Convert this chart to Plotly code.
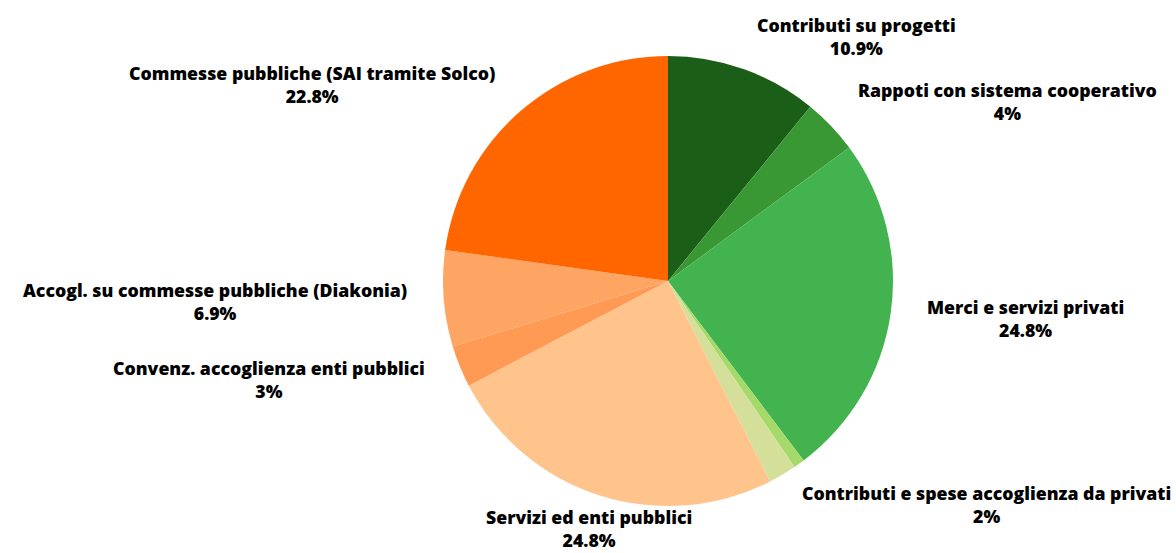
import math
import plotly.graph_objects as go

labels = [
    "Contributi su progetti",
    "Rappoti con sistema cooperativo",
    "Merci e servizi privati",
    "Altro",
    "Contributi e spese accoglienza da privati",
    "Servizi ed enti pubblici",
    "Convenz. accoglienza enti pubblici",
    "Accogl. su commesse pubbliche (Diakonia)",
    "Commesse pubbliche (SAI tramite Solco)",
]
values = [10.9, 4, 24.8, 0.8, 2, 24.8, 3, 6.9, 22.8]
pct_text = ["10.9%", "4%", "24.8%", "", "2%", "24.8%", "3%", "6.9%", "22.8%"]
colors = ["#1b5e17", "#3a9834", "#42b34f", "#a5d96a", "#d4df9a",
          "#ffc38c", "#ff9a55", "#ffa563", "#ff6600"]

W, H = 1176, 553
cx, cy, R = 668, 281, 225
label_r = 260

fig = go.Figure(go.Pie(
    labels=labels, values=values, sort=False, direction="clockwise", rotation=0,
    marker=dict(colors=colors, line=dict(width=0)),
    textinfo="none", hoverinfo="label+percent", showlegend=False,
    domain=dict(x=[(cx - R) / W, (cx + R) / W], y=[1 - (cy + R) / H, 1 - (cy - R) / H]),
))

total = sum(values)
cum = 0.0
annotations = []
for name, v, pt in zip(labels, values, pct_text):
    a = 360.0 * (cum + v / 2) / total
    cum += v
    if not pt:
        continue
    dx = math.sin(math.radians(a))
    dy = -math.cos(math.radians(a))
    px = cx + label_r * dx
    py = cy + label_r * dy
    if abs(a - 180) < 25:
        xa = "center"
    elif dx > 0:
        xa = "left"
    else:
        xa = "right"
    annotations.append(dict(
        x=px / W, y=1 - py / H, xref="paper", yref="paper",
        text=f"{name}<br>{pt}", showarrow=False, xanchor=xa, yanchor="middle",
        align="center",
        font=dict(family="Open Sans", size=17.7, color="#000000", weight=800),
    ))

fig.update_layout(
    width=W, height=H, margin=dict(l=0, r=0, t=0, b=0, pad=0),
    paper_bgcolor="white", plot_bgcolor="white",
    annotations=annotations,
)
fig.write_html("out.html")
